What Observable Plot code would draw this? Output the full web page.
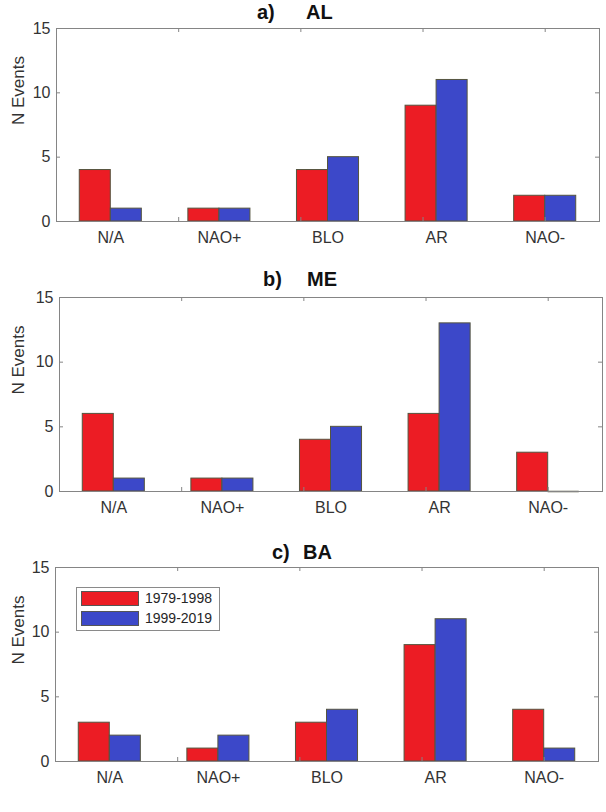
<!DOCTYPE html>
<html>
<head>
<meta charset="utf-8">
<script src="https://cdn.jsdelivr.net/npm/d3@7"></script>
<script src="https://cdn.jsdelivr.net/npm/@observablehq/plot@0.6"></script>
<style>
  body { margin: 0; background: #fff; }
  #page { position: relative; width: 606px; height: 812px; overflow: hidden;
          font-family: "Liberation Sans", Arial, Helvetica, sans-serif; color: #262626; }
  .panel { position: absolute; left: 0; }
  .ttl { position: absolute; font-weight: bold; font-size: 20px; line-height: 20px; color: #111; white-space: nowrap; }
  .legend { position: absolute; border: 1px solid #8a8a8a; background: #fff; box-sizing: border-box; }
  .legend .sw { position: absolute; left: 4px; width: 58px; height: 15px; box-sizing: border-box; border: 1px solid #555; }
  .legend .lb { position: absolute; left: 68px; font-size: 14px; line-height: 15px; color: #262626; }
</style>
</head>
<body>
<div id="page"></div>
<script>
// Weather-regime categories and the two periods compared
const categories = ["N/A", "NAO+", "BLO", "AR", "NAO-"];
const periods = ["1979-1998", "1999-2019"];
const periodColors = ["#ec1c24", "#3c48c9"];

// Event counts per category, (a) AL
const alEarly = [4, 1, 4, 9, 2];
const alLate = [1, 1, 5, 11, 2];
// (b) ME
const meEarly = [6, 1, 4, 6, 3];
const meLate = [1, 1, 5, 13, 0];
// (c) BA
const baEarly = [3, 1, 3, 9, 4];
const baLate = [2, 2, 4, 11, 1];

// Axis ticks
const yTicks = [0, 5, 10, 15];
const xTickMarks = [1.625, 2.75, 3.875, 5];

const page = document.getElementById("page");
const font = '"Liberation Sans", Arial, Helvetica, sans-serif';
const axisGray = "#858585";
const textGray = "#333333";
const edgeColor = "#55553f";

// Grouped-bar geometry: two bars per category, group width 4/7 of a category step
const barWidth = 2 / 7;
const barX1 = d => d.pos - barWidth + d.side * barWidth;
const barX2 = d => d.pos + d.side * barWidth;

function panel({early, late, left, right, top, bottom, tag, name, tagLeft, nameLeft, titleTop, legend}) {
  const mTop = 10, mBottom = 42;
  const plotW = right - left;
  const plotH = bottom - top;
  const rows = categories.flatMap((c, i) => [
    {category: c, pos: i + 1, side: 0, period: periods[0], value: early[i]},
    {category: c, pos: i + 1, side: 1, period: periods[1], value: late[i]}
  ]);

  const chart = Plot.plot({
    width: 606,
    height: mTop + plotH + mBottom,
    marginLeft: left,
    marginRight: 606 - right,
    marginTop: mTop,
    marginBottom: mBottom,
    style: {fontFamily: font, fontSize: "16px", color: textGray, background: "transparent"},
    x: {domain: [0.5, 5.5], axis: null},
    y: {domain: [0, 15], axis: null},
    color: {domain: periods, range: periodColors},
    marks: [
      Plot.rect(rows, {
        x1: barX1, x2: barX2, y1: 0, y2: "value",
        fill: "period", stroke: edgeColor, strokeWidth: 1
      }),
      // empty bars still show their outline as a flat edge on the baseline
      Plot.ruleY(rows.filter(d => d.value === 0), {
        y: "value", x1: barX1, x2: barX2, stroke: edgeColor, strokeWidth: 1.5
      }),
      Plot.frame({stroke: axisGray, strokeWidth: 1}),
      // inward tick marks on all four sides
      Plot.tickY(yTicks.slice(1, -1), {y: d => d, insetRight: plotW - 4, stroke: axisGray}),
      Plot.tickY(yTicks.slice(1, -1), {y: d => d, insetLeft: plotW - 4, stroke: axisGray}),
      Plot.tickX(xTickMarks, {x: d => d, insetTop: plotH - 4, stroke: axisGray}),
      Plot.tickX(xTickMarks, {x: d => d, insetBottom: plotH - 4, stroke: axisGray}),
      Plot.axisY(yTicks, {tickSize: 0, tickPadding: 6, fontSize: 16, fill: textGray, label: null}),
      Plot.axisX([1, 2, 3, 4, 5], {
        tickSize: 0, tickPadding: 10, fontSize: 16, fill: textGray, label: null,
        tickFormat: d => categories[d - 1]
      }),
      Plot.text(["N Events"], {
        text: d => d, frameAnchor: "left", rotate: -90, dx: -(left - 18.5),
        fontSize: 17, fill: textGray
      })
    ]
  });
  chart.classList.add("panel");
  chart.style.top = (top - mTop) + "px";
  page.appendChild(chart);

  const t1 = document.createElement("div");
  t1.className = "ttl";
  t1.textContent = tag;
  t1.style.left = tagLeft + "px";
  t1.style.top = titleTop + "px";
  page.appendChild(t1);
  const t2 = document.createElement("div");
  t2.className = "ttl";
  t2.textContent = name;
  t2.style.left = nameLeft + "px";
  t2.style.top = titleTop + "px";
  page.appendChild(t2);

  if (legend) {
    const lg = document.createElement("div");
    lg.className = "legend";
    Object.assign(lg.style, {left: legend.left + "px", top: legend.top + "px", width: "144px", height: "44px"});
    periods.forEach((p, i) => {
      const sw = document.createElement("div");
      sw.className = "sw";
      sw.style.top = (3 + i * 20) + "px";
      sw.style.background = periodColors[i];
      lg.appendChild(sw);
      const lb = document.createElement("div");
      lb.className = "lb";
      lb.style.top = (3 + i * 20) + "px";
      lb.textContent = p;
      lg.appendChild(lb);
    });
    page.appendChild(lg);
  }
}

panel({early: alEarly, late: alLate, left: 56, right: 599, top: 28, bottom: 221,
       tag: "a)", name: "AL", tagLeft: 257, nameLeft: 306, titleTop: 2});
panel({early: meEarly, late: meLate, left: 59, right: 602, top: 297, bottom: 491,
       tag: "b)", name: "ME", tagLeft: 263, nameLeft: 307, titleTop: 269});
panel({early: baEarly, late: baLate, left: 55, right: 598, top: 567, bottom: 761,
       tag: "c)", name: "BA", tagLeft: 272, nameLeft: 303, titleTop: 542,
       legend: {left: 76, top: 587}});
</script>
</body>
</html>
